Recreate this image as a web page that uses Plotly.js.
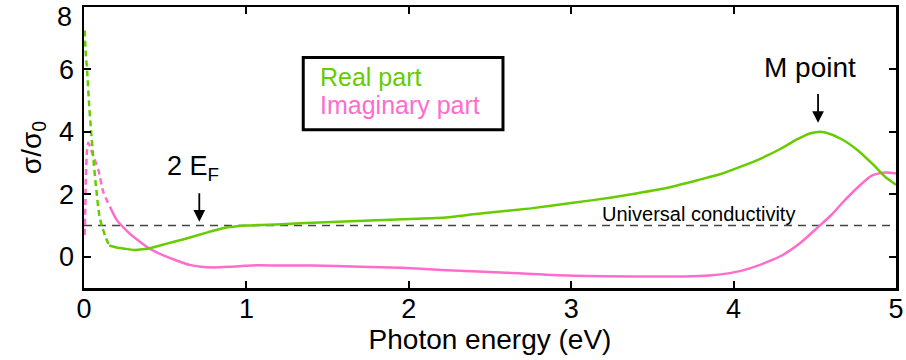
<!DOCTYPE html>
<html>
<head>
<meta charset="utf-8">
<script src="https://cdn.plot.ly/plotly-3.0.1.min.js"></script>
<style>html,body{margin:0;padding:0;background:#fff}</style>
</head>
<body>
<div id="chart" style="width:906px;height:360px"></div>
<script>
// Optical conductivity of doped graphene, normalised to sigma_0
// Low-energy (Drude) part of each curve is drawn dashed.
const realLowX = [0.004, 0.01, 0.02, 0.03, 0.043, 0.06, 0.074, 0.095, 0.115, 0.135, 0.155];
const realLowY = [7.25, 6.6, 5.9, 5.0, 4.07, 3.0, 2.24, 1.3, 0.9, 0.6, 0.36];

const realX = [0.155, 0.2, 0.25, 0.31, 0.36, 0.41, 0.51, 0.62, 0.76, 0.86, 1.0, 1.1, 1.33, 1.64,
  2.05, 2.25, 2.5, 2.75, 3.0, 3.25, 3.4, 3.6, 3.79, 3.92, 4.04, 4.16, 4.29, 4.39, 4.47, 4.52, 4.57,
  4.66, 4.76, 4.86, 4.94, 5.0];
const realY = [0.36, 0.3, 0.26, 0.22, 0.24, 0.28, 0.42, 0.57, 0.78, 0.92, 1.0, 1.02, 1.07, 1.14,
  1.22, 1.27, 1.42, 1.55, 1.72, 1.9, 2.03, 2.22, 2.47, 2.65, 2.88, 3.13, 3.46, 3.76, 3.95, 4.0, 3.97,
  3.78, 3.43, 2.95, 2.53, 2.31];

const imagLowX = [0.004, 0.008, 0.012, 0.018, 0.026, 0.04, 0.05, 0.07, 0.09, 0.12, 0.16];
const imagLowY = [0.7, 1.6, 2.6, 3.4, 3.65, 3.5, 3.33, 3.05, 2.75, 2.05, 1.6];

const imagX = [0.16, 0.2, 0.27, 0.34, 0.41, 0.5, 0.57, 0.65, 0.72, 0.8, 0.9, 1.07, 1.2, 1.4, 1.7, 1.95,
  2.2, 2.57, 2.98, 3.39, 3.7, 3.85, 4.0, 4.1, 4.2, 4.3, 4.41, 4.52, 4.6, 4.67, 4.77, 4.85, 4.93, 5.0];
const imagY = [1.6, 1.19, 0.8, 0.5, 0.24, 0.02, -0.12, -0.26, -0.32, -0.34, -0.32, -0.27, -0.28, -0.28, -0.32, -0.35,
  -0.42, -0.5, -0.6, -0.63, -0.63, -0.6, -0.5, -0.37, -0.18, 0.05, 0.44, 0.95, 1.33, 1.73, 2.25, 2.6, 2.7, 2.67];

const universalX = [0, 5];
const universalY = [1, 1];

const xTicks = [0, 1, 2, 3, 4, 5];
const yTicks = [0, 2, 4, 6];
const yTopLabel = '8';

const GREEN = '#66cc00';
const PINK = '#ff6ccb';
const FONT = 'Liberation Sans, Arial, Helvetica, sans-serif';

const smooth = {shape: 'spline', smoothing: 0.6};
const traces = [
  {x: universalX, y: universalY, mode: 'lines', line: {color: '#444', width: 1.4, dash: '8px,6px'}},
  {x: imagLowX, y: imagLowY, mode: 'lines', line: Object.assign({color: PINK, width: 2.5, dash: '6px,4px'}, smooth)},
  {x: imagX, y: imagY, mode: 'lines', line: Object.assign({color: PINK, width: 2.5}, smooth)},
  {x: realLowX, y: realLowY, mode: 'lines', line: Object.assign({color: GREEN, width: 2.5, dash: '6px,4px'}, smooth)},
  {x: realX, y: realY, mode: 'lines', line: Object.assign({color: GREEN, width: 2.5}, smooth)}
];

const axisCommon = {
  showgrid: false, zeroline: false, showline: true, linecolor: '#000', linewidth: 2.5,
  mirror: 'ticks', ticks: 'inside', ticklen: 7, tickwidth: 2, tickcolor: '#000',
  tickfont: {family: FONT, size: 27, color: '#000'}
};

const layout = {
  width: 906, height: 360,
  margin: {l: 84, r: 10, t: 7, b: 72},
  paper_bgcolor: '#fff', plot_bgcolor: '#fff',
  showlegend: false,
  font: {family: FONT, color: '#000'},
  xaxis: Object.assign({}, axisCommon, {
    range: [0, 5], tickmode: 'array', tickvals: xTicks, ticktext: xTicks.map(String),
    ticklabelstandoff: -5,
    title: {text: 'Photon energy (eV)', font: {family: FONT, size: 28}, standoff: 6}
  }),
  yaxis: Object.assign({}, axisCommon, {
    range: [-1, 8], tickmode: 'array', tickvals: yTicks, ticktext: yTicks.map(String),
    ticklabelstandoff: 2,
    title: {text: 'σ/σ<sub>0</sub>', font: {family: FONT, size: 28}, standoff: 10}
  }),
  shapes: [
    {type: 'rect', xref: 'x', yref: 'y', x0: 1.35, x1: 2.58, y0: 4.07, y1: 6.38,
     line: {color: '#000', width: 3}, fillcolor: 'rgba(0,0,0,0)'}
  ],
  annotations: [
    {x: 0, y: 8, xref: 'x', yref: 'y', xanchor: 'right', yanchor: 'top', xshift: -10, yshift: 7,
     showarrow: false, text: yTopLabel, font: {family: FONT, size: 27}},
    {x: 1.44, y: 5.77, xref: 'x', yref: 'y', xanchor: 'left', yanchor: 'middle', showarrow: false,
     text: 'Real part', font: {family: FONT, size: 25, color: GREEN}},
    {x: 1.44, y: 4.85, xref: 'x', yref: 'y', xanchor: 'left', yanchor: 'middle', showarrow: false,
     text: 'Imaginary part', font: {family: FONT, size: 25, color: PINK}},
    {x: 4.47, y: 6.06, xref: 'x', yref: 'y', xanchor: 'center', yanchor: 'middle', showarrow: false,
     text: 'M point', font: {family: FONT, size: 28}},
    {x: 4.52, y: 4.29, ax: 4.52, ay: 5.26, xref: 'x', yref: 'y', axref: 'x', ayref: 'y',
     text: '', showarrow: true, arrowhead: 2, arrowsize: 1.3, arrowwidth: 1.8, arrowcolor: '#000', standoff: 0},
    {x: 0.67, y: 2.85, xref: 'x', yref: 'y', xanchor: 'center', yanchor: 'middle', showarrow: false,
     text: '2 E<sub>F</sub>', font: {family: FONT, size: 27}},
    {x: 0.71, y: 1.12, ax: 0.71, ay: 2.08, xref: 'x', yref: 'y', axref: 'x', ayref: 'y',
     text: '', showarrow: true, arrowhead: 2, arrowsize: 1.3, arrowwidth: 1.8, arrowcolor: '#000', standoff: 0},
    {x: 4.39, y: 1.36, xref: 'x', yref: 'y', xanchor: 'right', yanchor: 'middle', showarrow: false,
     text: 'Universal conductivity', font: {family: FONT, size: 20}}
  ]
};

Plotly.newPlot('chart', traces, layout, {staticPlot: true, displayModeBar: false});
</script>
</body>
</html>
